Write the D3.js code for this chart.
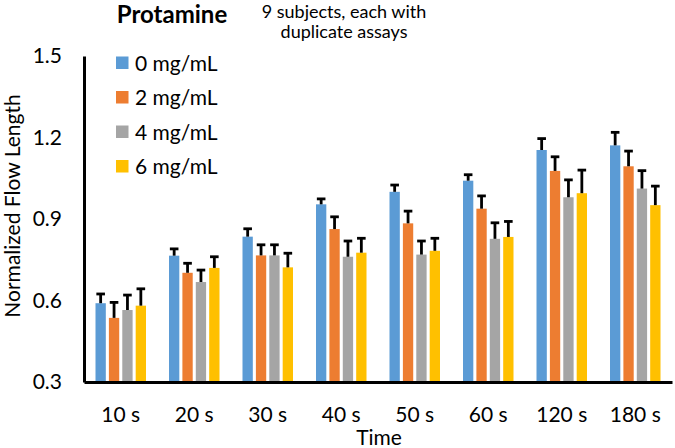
<!DOCTYPE html>
<html>
<head>
<meta charset="utf-8">
<script src="https://cdn.jsdelivr.net/npm/d3@7/dist/d3.min.js"></script>
<style>
  html, body { margin: 0; padding: 0; background: #fff; }
  svg { display: block; font-family: Lato, "Open Sans", sans-serif; }
</style>
</head>
<body>
<svg id="chart" width="675" height="448"></svg>
<script>
const categories = ["10 s", "20 s", "30 s", "40 s", "50 s", "60 s", "120 s", "180 s"];
const seriesNames = ["0 mg/mL", "2 mg/mL", "4 mg/mL", "6 mg/mL"];
const colors = ["#5B9BD5", "#ED7D31", "#A5A5A5", "#FFC000"];
const values0 = [0.590, 0.765, 0.835, 0.954, 1.000, 1.041, 1.154, 1.171];
const values2 = [0.536, 0.702, 0.766, 0.863, 0.884, 0.938, 1.077, 1.094];
const values4 = [0.565, 0.668, 0.766, 0.761, 0.769, 0.827, 0.980, 1.012];
const values6 = [0.581, 0.720, 0.722, 0.776, 0.783, 0.834, 0.995, 0.951];
const err0 = [0.034, 0.025, 0.029, 0.020, 0.025, 0.022, 0.042, 0.048];
const err2 = [0.057, 0.035, 0.039, 0.045, 0.045, 0.047, 0.052, 0.056];
const err4 = [0.055, 0.044, 0.039, 0.058, 0.050, 0.059, 0.064, 0.066];
const err6 = [0.062, 0.041, 0.052, 0.053, 0.046, 0.057, 0.085, 0.070];
const yTicks = [0.3, 0.6, 0.9, 1.2, 1.5];
const titleText = "Protamine";
const subtitleLines = ["9 subjects, each with", "duplicate assays"];
const xTitle = "Time";
const yTitle = "Normalized Flow Length";

const allValues = [values0, values2, values4, values6];
const allErrs = [err0, err2, err4, err6];
const rows = [];
categories.forEach((c, i) => {
  seriesNames.forEach((s, j) => {
    rows.push({cat: c, series: s, idx: j, value: allValues[j][i], err: allErrs[j][i]});
  });
});

const svg = d3.select("#chart");
const mLeft = 84, mRight = 672, mTop = 56, mBottom = 382;

const x0 = d3.scaleBand().domain(categories).range([mLeft, mRight]).padding(0);
const groupW = 50.5;
const x1 = d3.scaleBand().domain(seriesNames).range([0, groupW]).paddingInner(0.23).paddingOuter(0);
const groupOff = (x0.bandwidth() - groupW) / 2;
const y = d3.scaleLinear().domain([0.3, 1.5]).range([mBottom, mTop]);
const color = d3.scaleOrdinal().domain(seriesNames).range(colors);

// bars
svg.append("g").selectAll("rect").data(rows).join("rect")
  .attr("x", d => x0(d.cat) + groupOff + x1(d.series))
  .attr("y", d => y(d.value))
  .attr("width", x1.bandwidth())
  .attr("height", d => y(0.3) - y(d.value))
  .attr("fill", d => color(d.series));

// error bars (upper only)
const eg = svg.append("g").attr("stroke", "#000").attr("stroke-width", 2.8);
eg.selectAll("line.v").data(rows).join("line").attr("class", "v")
  .attr("x1", d => x0(d.cat) + groupOff + x1(d.series) + x1.bandwidth() / 2)
  .attr("x2", d => x0(d.cat) + groupOff + x1(d.series) + x1.bandwidth() / 2)
  .attr("y1", d => y(d.value))
  .attr("y2", d => y(d.value + d.err));
eg.selectAll("line.c").data(rows).join("line").attr("class", "c")
  .attr("x1", d => x0(d.cat) + groupOff + x1(d.series) + x1.bandwidth() / 2 - 4.3)
  .attr("x2", d => x0(d.cat) + groupOff + x1(d.series) + x1.bandwidth() / 2 + 4.3)
  .attr("y1", d => y(d.value + d.err))
  .attr("y2", d => y(d.value + d.err));

// axes
const yAxis = d3.axisLeft(y).tickValues(yTicks).tickSize(0).tickPadding(22).tickFormat(d3.format(".1f"));
const gy = svg.append("g").attr("transform", `translate(${mLeft},0)`).call(yAxis);
gy.select(".domain").attr("stroke", "#000").attr("stroke-width", 3);
gy.selectAll("text").attr("font-size", 21).attr("fill", "#000").attr("font-family", "Lato, sans-serif");

const xAxis = d3.axisBottom(x0).tickSize(0).tickPadding(25);
const gx = svg.append("g").attr("transform", `translate(0,${mBottom})`).call(xAxis);
gx.select(".domain").attr("stroke", "#000").attr("stroke-width", 3);
gx.selectAll("text").attr("font-size", 21).attr("fill", "#000").attr("font-family", "Lato, sans-serif");

// axis titles
svg.append("text").attr("x", 379).attr("y", 445).attr("text-anchor", "middle")
  .attr("font-size", 21).attr("fill", "#000").text(xTitle);
svg.append("text").attr("transform", "translate(20,206) rotate(-90)").attr("text-anchor", "middle")
  .attr("font-size", 21).attr("fill", "#000").text(yTitle);

// title
svg.append("text").attr("x", 172).attr("y", 23).attr("text-anchor", "middle")
  .attr("font-size", 24).attr("font-weight", "bold").attr("fill", "#000").text(titleText);
svg.append("g").selectAll("text").data(subtitleLines).join("text")
  .attr("x", 344).attr("y", (d, i) => 17.5 + i * 20.5).attr("text-anchor", "middle")
  .attr("font-size", 18).attr("fill", "#000").text(d => d);

// legend
const lg = svg.append("g").selectAll("g").data(seriesNames).join("g")
  .attr("transform", (d, i) => `translate(116,${63 + i * 34.5})`);
lg.append("rect").attr("x", 0).attr("y", -6.5).attr("width", 12.5).attr("height", 12.5)
  .attr("fill", d => color(d));
lg.append("text").attr("x", 19).attr("y", 0).attr("dy", "0.36em")
  .attr("font-size", 21).attr("fill", "#000").text(d => d);
</script>
</body>
</html>
